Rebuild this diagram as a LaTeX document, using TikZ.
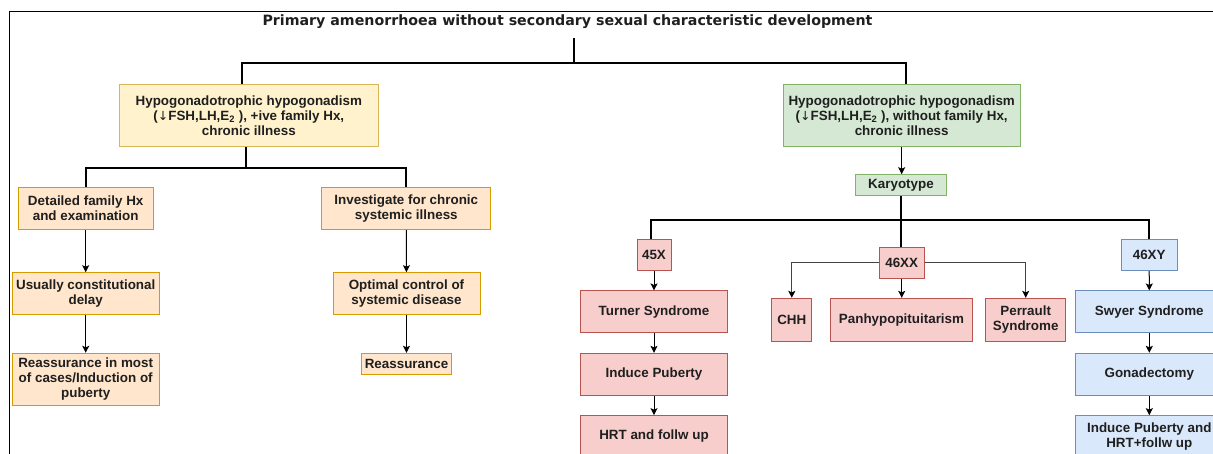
\documentclass[tikz,border=0pt]{standalone}
\usepackage{fontspec}
\setmainfont{Liberation Sans}
\newfontfamily\titlefont{DejaVu Sans}
\usetikzlibrary{arrows.meta}
\definecolor{txt}{HTML}{1F1F1F}
\definecolor{yfill}{HTML}{FFF2CC}\definecolor{ydraw}{HTML}{D6B656}
\definecolor{ofill}{HTML}{FFE6CC}\definecolor{odraw}{HTML}{D79B00}
\definecolor{gfill}{HTML}{D5E8D4}\definecolor{gdraw}{HTML}{82B366}
\definecolor{rfill}{HTML}{F8CECC}\definecolor{rdraw}{HTML}{B85450}
\definecolor{bfill}{HTML}{DAE8FC}\definecolor{bdraw}{HTML}{6C8EBF}
\definecolor{sidegrey}{HTML}{444444}
\newcommand{\boxfont}{\fontsize{13.4}{15.2}\selectfont\bfseries}
\newcommand{\dnarrow}{{\titlefont\fontsize{12.5}{15.2}\selectfont\mdseries ↓}}
\tikzset{
  box/.style={draw, line width=1pt, align=center, inner sep=0pt, font=\boxfont, text=txt},
  yel/.style={box, fill=yfill, draw=ydraw},
  org/.style={box, fill=ofill, draw=odraw},
  grn/.style={box, fill=gfill, draw=gdraw},
  red/.style={box, fill=rfill, draw=rdraw},
  blu/.style={box, fill=bfill, draw=bdraw},
  trunk/.style={line width=2pt, black},
  arr/.style={line width=1pt, black, -{Stealth[length=7pt,width=7pt,inset=1.5pt]}},
  sidearr/.style={line width=1pt, sidegrey, -{Stealth[length=7pt,width=7pt,inset=1.5pt,color=black]}},
}
\begin{document}
\begin{tikzpicture}[x=1pt,y=-1pt]
\useasboundingbox (0,0) rectangle (1213,454);
\clip (0,0) rectangle (1213,454);
% frame
\draw[line width=1pt] (9.3,454) -- (9.3,11.7) -- (1213,11.7);
% title
\node[font=\titlefont\fontsize{14.2}{16}\selectfont\bfseries, text=txt, inner sep=0pt, minimum height=31.4] (title) at (567.5,22) {Primary amenorrhoea without secondary sexual characteristic development};
% level 1
\node[yel, minimum width=259, minimum height=62] (hhl) at (248.8,115.5) {Hypogonadotrophic hypogonadism\\(\dnarrow FSH,LH,E\textsubscript{2} ), +ive family Hx,\\chronic illness};
\node[grn, minimum width=236.7, minimum height=62] (hhr) at (901.7,115.5) {Hypogonadotrophic hypogonadism\\(\dnarrow FSH,LH,E\textsubscript{2} ), without family Hx,\\chronic illness};
% left branch
\node[org, minimum width=135.3, minimum height=41.6] (det) at (85.7,208.5) {Detailed family Hx\\and examination};
\node[org, minimum width=169.3, minimum height=41.6] (inv) at (406.3,208.5) {Investigate for chronic\\systemic illness};
\node[org, minimum width=146.7, minimum height=42] (usu) at (85.7,293.7) {Usually constitutional\\delay};
\node[org, minimum width=146.7, minimum height=52] (re1) at (85.7,379.3) {Reassurance in most\\of cases/Induction of\\puberty};
\node[org, minimum width=147, minimum height=42] (opt) at (406.5,293.7) {Optimal control of\\systemic disease};
\node[org, minimum width=90.4, minimum height=21] (re2) at (406.5,363.8) {Reassurance};
% right branch
\node[grn, minimum width=91.4, minimum height=21] (kar) at (901,185.2) {Karyotype};
\node[red, minimum width=34, minimum height=31.4] (x45) at (654,255) {45X};
\node[red, minimum width=146.7, minimum height=41.7] (tur) at (654,311.8) {Turner Syndrome};
\node[red, minimum width=146.7, minimum height=41.7] (ind) at (654,374.2) {Induce Puberty};
\node[red, minimum width=146.7, minimum height=41.7] (hrt) at (654,436.5) {HRT and follw up};
\node[red, minimum width=45.3, minimum height=31.3] (xx) at (901.7,262.7) {46XX};
\node[red, minimum width=39.7, minimum height=42.7] (chh) at (791.8,319.7) {CHH};
\node[red, minimum width=141.6, minimum height=42.7] (pan) at (901.5,319.7) {Panhypopituitarism};
\node[red, minimum width=80, minimum height=42.7] (per) at (1025.7,319.7) {Perrault\\Syndrome};
\node[blu, minimum width=56.3, minimum height=31.4] (xy) at (1149.2,255) {46XY};
\node[blu, minimum width=146.7, minimum height=41.7] (swy) at (1149.3,311.8) {Swyer Syndrome};
\node[blu, minimum width=146.7, minimum height=41.7] (gon) at (1149.3,374.2) {Gonadectomy};
\node[blu, minimum width=146.7, minimum height=41.7] (ihr) at (1149.3,436.5) {Induce Puberty and\\HRT+follw up};
% trunk connectors
\draw[trunk] ([xshift=6.2pt]title.south) -- ++(0,25.6) coordinate (tj) -| ([xshift=-7.1pt]hhl.north);
\draw[trunk] (tj) -| ([xshift=4.3pt]hhr.north);
\draw[trunk] ([xshift=-2.8pt]hhl.south) -- ++(0,20.7) coordinate (lj) -| (det.north);
\draw[trunk] (lj) -| (inv.north);
\draw[trunk] (kar.south) -- ++(0,24.3) coordinate (kj) -| ([xshift=-3pt]x45.north);
\draw[trunk] (kj) -| (xy.north);
\draw[trunk] (kj) -- (kj |- xx.north);
% arrows
\draw[arr] (hhr.south) -- (hhr.south |- kar.north);
\draw[arr] (det) -- (usu);
\draw[arr] (usu) -- (re1);
\draw[arr] (inv) -- (opt);
\draw[arr] (opt) -- (re2);
\draw[arr] (x45) -- (tur);
\draw[arr] (tur) -- (ind);
\draw[arr] (ind) -- (hrt);
\draw[arr] (xy) -- (swy);
\draw[arr] (swy) -- (gon);
\draw[arr] (gon) -- (ihr);
\draw[arr] (xx.south) -- (xx.south |- pan.north);
\draw[sidearr] (xx.west) -| (chh.north);
\draw[sidearr] (xx.east) -| (per.north);
\end{tikzpicture}
\end{document}
